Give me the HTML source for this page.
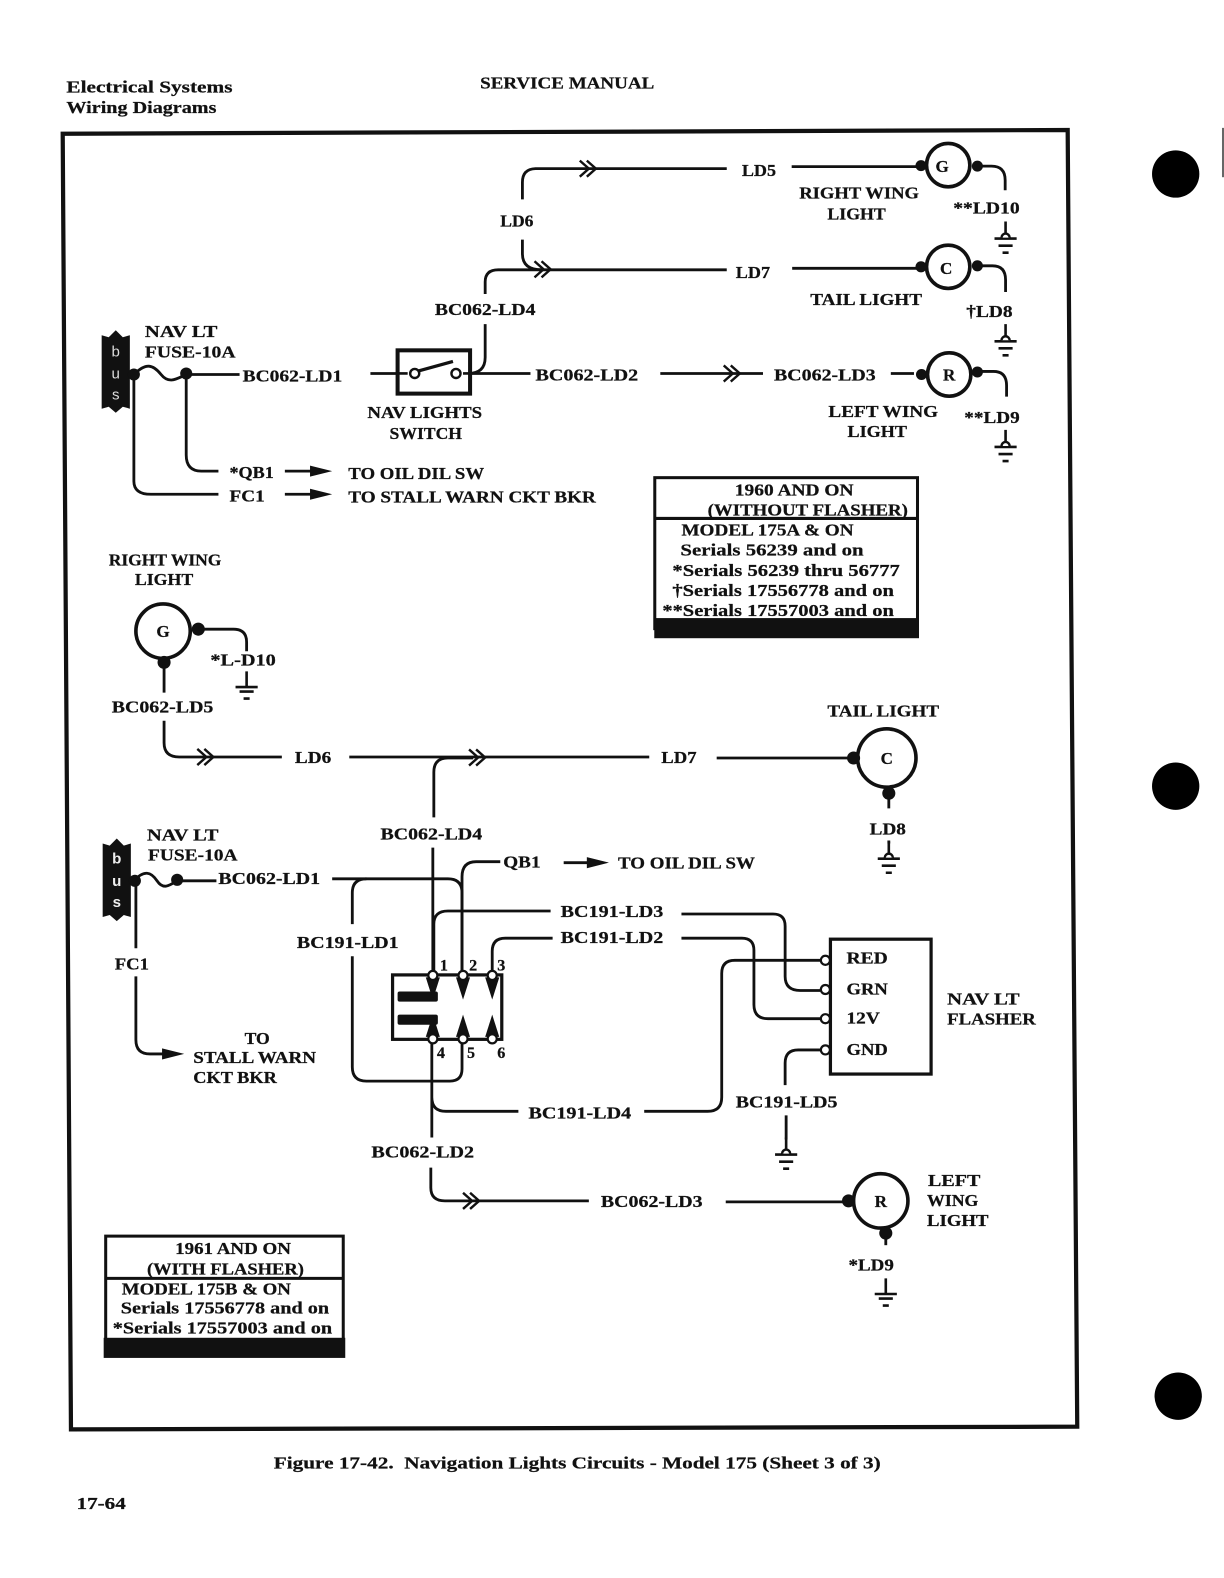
<!DOCTYPE html>
<html><head><meta charset="utf-8"><style>
html,body{margin:0;padding:0;background:#fff}
svg{display:block}
text{font-family:"Liberation Serif",serif;font-weight:bold;font-size:17px;fill:#111;stroke:#111;stroke-width:.25}
.w{fill:none;stroke:#111;stroke-width:2.8}
</style></head><body>
<svg width="1224" height="1578" viewBox="0 0 1216 1567.6" xmlns="http://www.w3.org/2000/svg">
<defs>
<g id="gnd"><path d="M0 0V14M-11 17H11M-7 24H7M-3 31H3" fill="none" stroke="#111" stroke-width="2.6"/><path d="M-4 16a4 4 0 0 1 8 0" fill="#fff" stroke="#111" stroke-width="2.4"/></g>
<g id="gnd2"><path d="M0 0V15M-11 15.5H11M-7 20H7M-3 27H3" fill="none" stroke="#111" stroke-width="2.6"/></g>
<g id="chv"><path d="M-16 -8L-7 0L-16 8M-9 -8L0 0L-9 8" fill="none" stroke="#111" stroke-width="2.4"/></g>
<g id="arr"><path d="M-22 -5.5L0 0L-22 5.5Z" fill="#111"/></g>
</defs>
<rect width="1216" height="1568" fill="#fff"/>
<text x="66" y="92" textLength="165" lengthAdjust="spacingAndGlyphs">Electrical Systems</text>
<text x="66" y="112" textLength="149" lengthAdjust="spacingAndGlyphs">Wiring Diagrams</text>
<text x="477" y="88" textLength="173" lengthAdjust="spacingAndGlyphs">SERVICE MANUAL</text>
<path d="M62.3 132.8L1060.7 129.1L1070.2 1417.3L70.5 1420Z" fill="none" stroke="#111" stroke-width="4.2"/>
<circle cx="1168" cy="172.8" r="23.5" fill="#000"/><circle cx="1168" cy="781" r="23.5" fill="#000"/><circle cx="1170.5" cy="1387" r="23.5" fill="#000"/>
<rect x="1214" y="127" width="2" height="49" fill="#666"/>

<!-- top diagram wires -->
<g class="w">
<path d="M133 372C145 360 152 362 160 372C168 382 176 376 185 372H238"/>
<path d="M185 372V452Q185 468 200 468H217"/>
<path d="M133 372V478Q133 491 150 491H217"/>
<path d="M368 371H394M460 371H527"/>
<path d="M465 371Q482 371 482 355V322M482 292V280Q482 268 495 268H722"/>
<path d="M519 198V181Q519 168 532 167.5H722"/>
<path d="M519 238V252Q519 268 538 268"/>
<path d="M656 371H758M885 371H908"/>
<path d="M786.5 165.5H912M787 266.5H912"/>
<path d="M971 165H985Q998.6 165 998.6 179V189M971 264H986Q999 264 999 278V290M971 369H987Q1000 369 1000 383V394"/>
<path d="M283 468H310M283 491H310"/>
</g>
<use href="#chv" x="592" y="167.5"/><use href="#chv" x="547" y="267.5"/><use href="#chv" x="735" y="371"/>
<use href="#arr" x="330" y="468"/><use href="#arr" x="330" y="491"/>
<path d="M101 333L108 335L115 328L122 335L129 333V406L122 404L115 410L108 404L101 406Z" fill="#111"/>
<text x="115" y="354" text-anchor="middle" style="fill:#ddd;stroke:none;font-size:15px;font-family:'Liberation Sans',sans-serif;font-weight:normal">b</text>
<text x="115" y="376" text-anchor="middle" style="fill:#ddd;stroke:none;font-size:15px;font-family:'Liberation Sans',sans-serif;font-weight:normal">u</text>
<text x="115" y="397" text-anchor="middle" style="fill:#ddd;stroke:none;font-size:15px;font-family:'Liberation Sans',sans-serif;font-weight:normal">s</text>
<circle cx="133" cy="372" r="6" fill="#111"/><circle cx="185" cy="371" r="6" fill="#111"/>
<rect x="395" y="348" width="72" height="43" fill="#fff" stroke="#111" stroke-width="4"/>
<path d="M394 371H405M460 371H467" stroke="#111" stroke-width="2.6"/>
<path d="M414 369L450 359" stroke="#111" stroke-width="3.2"/>
<circle cx="412" cy="371" r="4.5" fill="#fff" stroke="#111" stroke-width="2.4"/><circle cx="453" cy="371" r="4.5" fill="#fff" stroke="#111" stroke-width="2.4"/>
<!-- lamps -->
<g fill="#fff" stroke="#111" stroke-width="3.6">
<circle cx="942" cy="164" r="21.5"/><circle cx="942" cy="265" r="21.5"/><circle cx="943" cy="372" r="21.5"/>
<circle cx="162" cy="627" r="27"/><circle cx="881" cy="753" r="29"/><circle cx="875" cy="1193" r="27"/>
</g>
<g fill="#111">
<circle cx="915" cy="164.5" r="5.5"/><circle cx="971" cy="165" r="5.5"/>
<circle cx="915" cy="265" r="5.5"/><circle cx="971" cy="264" r="5.5"/>
<circle cx="915.5" cy="372" r="5.5"/><circle cx="971" cy="369.5" r="5.5"/>
<circle cx="197" cy="625" r="6.5"/><circle cx="163" cy="658" r="6.5"/>
<circle cx="848" cy="753" r="6.5"/><circle cx="883" cy="788" r="6.5"/>
<circle cx="843" cy="1193" r="6.5"/><circle cx="880" cy="1225" r="6.5"/>
</g>
<use href="#gnd" x="999" y="220"/><use href="#gnd" x="999" y="322"/><use href="#gnd" x="999" y="427"/>
<use href="#gnd2" x="245" y="667"/><use href="#gnd" x="883" y="836"/><use href="#gnd" x="781" y="1130"/><use href="#gnd2" x="880" y="1270"/>

<text x="144" y="335" textLength="72" lengthAdjust="spacingAndGlyphs">NAV LT</text>
<text x="144" y="355" textLength="90" lengthAdjust="spacingAndGlyphs">FUSE-10A</text>
<text x="241" y="379" textLength="99" lengthAdjust="spacingAndGlyphs">BC062-LD1</text>
<text x="532" y="378" textLength="102" lengthAdjust="spacingAndGlyphs">BC062-LD2</text>
<text x="769" y="378" textLength="101" lengthAdjust="spacingAndGlyphs">BC062-LD3</text>
<text x="432" y="313" textLength="100" lengthAdjust="spacingAndGlyphs">BC062-LD4</text>
<text x="497" y="225" textLength="33" lengthAdjust="spacingAndGlyphs">LD6</text>
<text x="737" y="175" textLength="34" lengthAdjust="spacingAndGlyphs">LD5</text>
<text x="731" y="276" textLength="34" lengthAdjust="spacingAndGlyphs">LD7</text>
<text x="794" y="197" textLength="119" lengthAdjust="spacingAndGlyphs">RIGHT WING</text>
<text x="822" y="218" textLength="58" lengthAdjust="spacingAndGlyphs">LIGHT</text>
<text x="805" y="303" textLength="111" lengthAdjust="spacingAndGlyphs">TAIL LIGHT</text>
<text x="823" y="414" textLength="109" lengthAdjust="spacingAndGlyphs">LEFT WING</text>
<text x="842" y="434" textLength="59" lengthAdjust="spacingAndGlyphs">LIGHT</text>
<text x="947" y="212" textLength="66" lengthAdjust="spacingAndGlyphs">**LD10</text>
<text x="960" y="315" textLength="46" lengthAdjust="spacingAndGlyphs">†LD8</text>
<text x="958" y="420" textLength="55" lengthAdjust="spacingAndGlyphs">**LD9</text>
<text x="365" y="415" textLength="114" lengthAdjust="spacingAndGlyphs">NAV LIGHTS</text>
<text x="387" y="436" textLength="72" lengthAdjust="spacingAndGlyphs">SWITCH</text>
<text x="228" y="475" textLength="44" lengthAdjust="spacingAndGlyphs">*QB1</text>
<text x="228" y="498" textLength="35" lengthAdjust="spacingAndGlyphs">FC1</text>
<text x="346" y="476" textLength="135" lengthAdjust="spacingAndGlyphs">TO OIL DIL SW</text>
<text x="346" y="499" textLength="246" lengthAdjust="spacingAndGlyphs">TO STALL WARN CKT BKR</text>

<!-- box 1 -->
<rect x="650.5" y="474.5" width="261" height="150" fill="none" stroke="#111" stroke-width="3"/>
<path d="M650 515H912" stroke="#111" stroke-width="3"/>
<rect x="650" y="614" width="263" height="20" fill="#111"/>
<text x="730" y="492" textLength="118" lengthAdjust="spacingAndGlyphs">1960 AND ON</text>
<text x="703" y="512" textLength="199" lengthAdjust="spacingAndGlyphs">(WITHOUT FLASHER)</text>
<text x="677" y="532" textLength="171" lengthAdjust="spacingAndGlyphs">MODEL 175A &amp; ON</text>
<text x="676" y="552" textLength="182" lengthAdjust="spacingAndGlyphs">Serials 56239 and on</text>
<text x="668" y="572" textLength="226" lengthAdjust="spacingAndGlyphs">*Serials 56239 thru 56777</text>
<text x="668" y="592" textLength="220" lengthAdjust="spacingAndGlyphs">†Serials 17556778 and on</text>
<text x="658" y="612" textLength="230" lengthAdjust="spacingAndGlyphs">**Serials 17557003 and on</text>

<!-- lower diagram -->
<text x="108" y="562" textLength="112" lengthAdjust="spacingAndGlyphs">RIGHT WING</text>
<text x="134" y="581" textLength="58" lengthAdjust="spacingAndGlyphs">LIGHT</text>
<text x="162" y="633" text-anchor="middle">G</text>
<text x="209" y="661" textLength="65" lengthAdjust="spacingAndGlyphs">*L-D10</text>
<text x="111" y="708" textLength="101" lengthAdjust="spacingAndGlyphs">BC062-LD5</text>
<text x="293" y="758" textLength="36" lengthAdjust="spacingAndGlyphs">LD6</text>
<text x="657" y="758" textLength="35" lengthAdjust="spacingAndGlyphs">LD7</text>
<text x="822" y="712" textLength="111" lengthAdjust="spacingAndGlyphs">TAIL LIGHT</text>
<text x="864" y="829" textLength="36" lengthAdjust="spacingAndGlyphs">LD8</text>
<text x="378" y="834" textLength="101" lengthAdjust="spacingAndGlyphs">BC062-LD4</text>
<text x="146" y="835" textLength="71" lengthAdjust="spacingAndGlyphs">NAV LT</text>
<text x="147" y="855" textLength="89" lengthAdjust="spacingAndGlyphs">FUSE-10A</text>
<text x="217" y="878" textLength="101" lengthAdjust="spacingAndGlyphs">BC062-LD1</text>
<text x="500" y="862" textLength="37" lengthAdjust="spacingAndGlyphs">QB1</text>
<text x="614" y="863" textLength="136" lengthAdjust="spacingAndGlyphs">TO OIL DIL SW</text>
<text x="557" y="911" textLength="102" lengthAdjust="spacingAndGlyphs">BC191-LD3</text>
<text x="557" y="937" textLength="102" lengthAdjust="spacingAndGlyphs">BC191-LD2</text>
<text x="295" y="942" textLength="101" lengthAdjust="spacingAndGlyphs">BC191-LD1</text>
<text x="114" y="963" textLength="34" lengthAdjust="spacingAndGlyphs">FC1</text>
<text x="243" y="1037" textLength="25" lengthAdjust="spacingAndGlyphs">TO</text>
<text x="192" y="1056" textLength="122" lengthAdjust="spacingAndGlyphs">STALL WARN</text>
<text x="192" y="1076" textLength="83" lengthAdjust="spacingAndGlyphs">CKT BKR</text>
<text x="525" y="1111" textLength="102" lengthAdjust="spacingAndGlyphs">BC191-LD4</text>
<text x="731" y="1100" textLength="101" lengthAdjust="spacingAndGlyphs">BC191-LD5</text>
<text x="369" y="1150" textLength="102" lengthAdjust="spacingAndGlyphs">BC062-LD2</text>
<text x="597" y="1199" textLength="101" lengthAdjust="spacingAndGlyphs">BC062-LD3</text>
<text x="843" y="1262" textLength="45" lengthAdjust="spacingAndGlyphs">*LD9</text>
<text x="922" y="1178" textLength="52" lengthAdjust="spacingAndGlyphs">LEFT</text>
<text x="921" y="1198" textLength="51" lengthAdjust="spacingAndGlyphs">WING</text>
<text x="921" y="1218" textLength="61" lengthAdjust="spacingAndGlyphs">LIGHT</text>
<text x="881" y="759" text-anchor="middle">C</text>
<text x="875" y="1199" text-anchor="middle">R</text>
<text x="936" y="171" text-anchor="middle">G</text>
<text x="940" y="272" text-anchor="middle">C</text>
<text x="943" y="378" text-anchor="middle">R</text>

<g class="w">
<path d="M197 625H232Q245 625 245 638V647"/>
<path d="M163 660V688M163 716V738Q163 752 178 752H280"/>
<path d="M347 752H645M712 753H843"/>
<path d="M883 790V803M883 835V838"/>
<path d="M431 812V767Q431 753 445 753H470"/>
<path d="M430 842V968"/>
<path d="M133 875C143 864 150 866 156 875C162 884 168 880 176 875H215"/>
<path d="M135 875V942M135 970V1033Q135 1047 149 1047H165"/>
<path d="M330 873H445Q459 873 459 887V966"/>
<path d="M350 918V887Q350 873 364 873"/>
<path d="M350 950V1060Q350 1074 364 1074H447Q459 1074 459 1062V1034"/>
<path d="M459 966V871Q459 856 473 856H497"/>
<path d="M560 857H585"/>
<path d="M431 966V918Q431 905 445 905H547"/>
<path d="M489 966V945Q489 932 502 932H549"/>
<path d="M677 908H768Q780 908 780 920V970Q780 984 795 984H815"/>
<path d="M677 932H737Q749 932 749 944V998Q749 1012 763 1012H815"/>
<path d="M819 954H730Q717 954 717 967V1090Q717 1104 703 1104H640"/>
<path d="M429 1034V1130M429 1090Q429 1104 443 1104H515"/>
<path d="M428 1160V1180Q428 1193 442 1193H585"/>
<path d="M721 1194H838"/>
<path d="M880 1228V1237"/>
<path d="M819 1043H793Q780 1043 780 1056V1078M781 1108V1132"/>
</g>
<use href="#chv" x="212" y="752"/><use href="#chv" x="482" y="752.5"/><use href="#chv" x="476" y="1193"/>
<use href="#arr" x="605" y="857"/><use href="#arr" x="183" y="1047"/>

<path d="M102 838L109 840L116 833L123 840L130 838V911L123 909L116 915L109 909L102 911Z" fill="#111"/>
<text x="116" y="858" text-anchor="middle" style="fill:#eee;stroke:none;font-size:15px;font-family:'Liberation Sans',sans-serif">b</text>
<text x="116" y="880" text-anchor="middle" style="fill:#eee;stroke:none;font-size:15px;font-family:'Liberation Sans',sans-serif">u</text>
<text x="116" y="901" text-anchor="middle" style="fill:#eee;stroke:none;font-size:15px;font-family:'Liberation Sans',sans-serif">s</text>
<circle cx="134" cy="875" r="6" fill="#111"/><circle cx="176" cy="874" r="6" fill="#111"/>

<!-- relay -->
<rect x="390" y="968.5" width="108.5" height="64" fill="none" stroke="#111" stroke-width="3.2"/>
<rect x="395" y="985" width="40" height="10" rx="2" fill="#111"/><rect x="395" y="1008" width="40" height="10" rx="2" fill="#111"/>
<g fill="#111">
<path d="M423 971H437L430 993Z"/><path d="M453 971H467L460 993Z"/><path d="M482 971H496L489 993Z"/>
<path d="M423 1030H437L430 1008Z"/><path d="M453 1030H467L460 1008Z"/><path d="M482 1030H496L489 1008Z"/>
</g>
<g fill="#fff" stroke="#111" stroke-width="2.2">
<circle cx="430" cy="969" r="4.5"/><circle cx="460" cy="969" r="4.5"/><circle cx="489" cy="969" r="4.5"/>
<circle cx="430" cy="1032" r="4.5"/><circle cx="460" cy="1032" r="4.5"/><circle cx="489" cy="1032" r="4.5"/>
</g>
<text x="437" y="964" style="font-size:16px">1</text><text x="466" y="964" style="font-size:16px">2</text><text x="494" y="964" style="font-size:16px">3</text>
<text x="434" y="1051" style="font-size:16px">4</text><text x="464" y="1051" style="font-size:16px">5</text><text x="494" y="1051" style="font-size:16px">6</text>

<!-- flasher -->
<rect x="825" y="933" width="100" height="134" fill="none" stroke="#111" stroke-width="3.2"/>
<g fill="#fff" stroke="#111" stroke-width="2.2">
<circle cx="820" cy="954" r="4.5"/><circle cx="820" cy="983" r="4.5"/><circle cx="820" cy="1012" r="4.5"/><circle cx="820" cy="1043" r="4.5"/>
</g>
<text x="841" y="957" textLength="41" lengthAdjust="spacingAndGlyphs">RED</text>
<text x="841" y="988" textLength="41" lengthAdjust="spacingAndGlyphs">GRN</text>
<text x="841" y="1017" textLength="33" lengthAdjust="spacingAndGlyphs">12V</text>
<text x="841" y="1048" textLength="41" lengthAdjust="spacingAndGlyphs">GND</text>
<text x="941" y="998" textLength="72" lengthAdjust="spacingAndGlyphs">NAV LT</text>
<text x="941" y="1018" textLength="88" lengthAdjust="spacingAndGlyphs">FLASHER</text>

<!-- box 2 -->
<rect x="105" y="1228" width="236" height="110" fill="none" stroke="#111" stroke-width="3"/>
<path d="M104 1270H341" stroke="#111" stroke-width="3"/>
<rect x="103" y="1329" width="240" height="20" fill="#111"/>
<text x="174" y="1246" textLength="115" lengthAdjust="spacingAndGlyphs">1961 AND ON</text>
<text x="146" y="1266" textLength="156" lengthAdjust="spacingAndGlyphs">(WITH FLASHER)</text>
<text x="121" y="1286" textLength="168" lengthAdjust="spacingAndGlyphs">MODEL 175B &amp; ON</text>
<text x="120" y="1305" textLength="207" lengthAdjust="spacingAndGlyphs">Serials 17556778 and on</text>
<text x="112" y="1325" textLength="218" lengthAdjust="spacingAndGlyphs">*Serials 17557003 and on</text>

<text x="272" y="1459" textLength="603" lengthAdjust="spacingAndGlyphs" xml:space="preserve">Figure 17-42.  Navigation Lights Circuits - Model 175 (Sheet 3 of 3)</text>
<text x="76" y="1499" textLength="49" lengthAdjust="spacingAndGlyphs">17-64</text>
</svg>
</body></html>
